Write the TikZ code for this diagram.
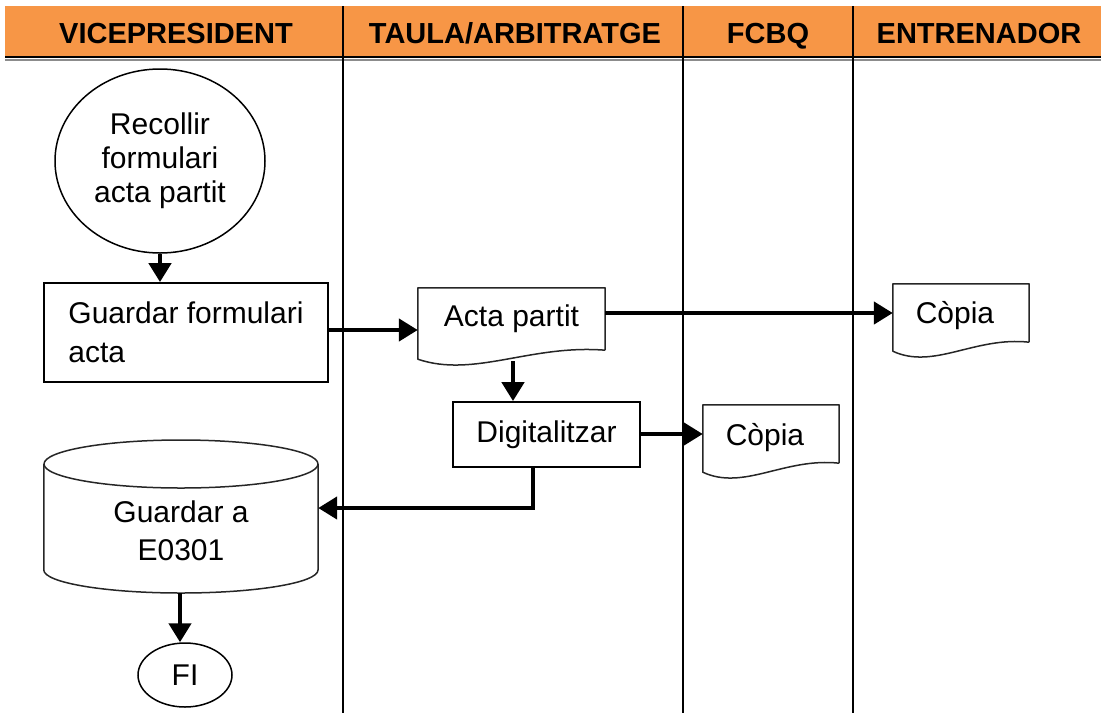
\documentclass[tikz,border=0pt]{standalone}
\usepackage{fontspec}
\setmainfont{Liberation Sans}
\usetikzlibrary{shapes.geometric,arrows.meta,calc}

\definecolor{headorange}{HTML}{F79646}

\tikzset{
  lane/.style={draw=black, line width=1.5pt},
  headtxt/.style={font=\fontsize{29}{32}\selectfont\bfseries, inner sep=0pt, anchor=base},
  boxtxt/.style={font=\fontsize{30}{34}\selectfont},
  procbox/.style={draw=black, line width=1.8pt, boxtxt, inner sep=0pt},
  docbox/.style={draw=none, boxtxt, inner sep=0pt},
  docline/.style={draw=black!85, line width=1.5pt, line join=round},
  flow/.style={line width=4.5pt, -{Triangle[length=19pt,width=22pt]}},
}

% outline of a document symbol: straight top and sides, wavy bottom
\newcommand{\docoutline}[1]{%
  \draw[docline] ($(#1.south east)$) -- (#1.north east) -- (#1.north west)
    -- ($(#1.south west)+(0,9)$)
    .. controls ($(#1.south west)!0.3!(#1.south east)+(0,28)$)
            and ($(#1.south west)!0.6!(#1.south east)+(0,-6)$) .. (#1.south east);}

\begin{document}
\begin{tikzpicture}[x=1pt,y=-1pt]
\useasboundingbox (0,0) rectangle (1101,713);

% header band
\fill[headorange] (5,6) rectangle (1101,57);
\draw[line width=2pt, black] (5,57) -- (1101,57);
\draw[line width=2pt, black!45] (5,60) -- (1101,60);

% lane dividers
\draw[lane] (343,6) -- (343,713);
\draw[lane] (683,6) -- (683,713);
\draw[lane] (853,6) -- (853,713);

% lane titles
\node[headtxt] (h1) at (176,43) {VICEPRESIDENT};
\node[headtxt] (h2) at (515,43) {TAULA/ARBITRATGE};
\node[headtxt] (h3) at (768,43) {FCBQ};
\node[headtxt] (h4) at (979,43) {ENTRENADOR};

% start
\node[ellipse, draw=black, line width=1.5pt, minimum width=210, minimum height=184,
      inner sep=0pt, align=center, font=\fontsize{30}{34}\selectfont]
  (start) at (160,161) {Recollir\\formulari\\acta partit};

% store the form
\node[procbox, minimum width=284, minimum height=99, align=left,
      font=\fontsize{30}{39}\selectfont]
  (store) at (186,332.5) {Guardar formulari\\acta};

% match report and copies
\node[docbox, minimum width=187, minimum height=62] (acta) at (511.5,319) {Acta partit};
\docoutline{acta}
\node[docbox, minimum width=136, minimum height=58] (copyA) at (961,313) {};
\docoutline{copyA}
\node[boxtxt, inner sep=0pt] (copyAtxt) at (955,316) {Còpia};
\node[docbox, minimum width=136, minimum height=58] (copyB) at (771,434) {};
\docoutline{copyB}
\node[boxtxt, inner sep=0pt] (copyBtxt) at (765,438) {Còpia};

% digitise
\node[procbox, minimum width=187, minimum height=65] (digit) at (546.5,434.5) {Digitalitzar};

% archive (cylinder)
\node[draw=none, minimum width=274, minimum height=153, inner sep=0pt] (arch) at (181,516.5) {};
\draw[docline] (181,464) ellipse [x radius=137, y radius=24];
\draw[docline] (arch.west |- 0,464) -- (arch.west |- 0,570)
  .. controls (44,582.7) and (105.4,593) .. (181,593)
  .. controls (256.6,593) and (318,582.7) .. (318,570)
  -- (arch.east |- 0,464);
\node[boxtxt, align=center, font=\fontsize{30}{38}\selectfont] (archtxt) at (181,531) {Guardar a\\E0301};

% end
\node[ellipse, draw=black, line width=1.5pt, minimum width=94, minimum height=64,
      inner sep=0pt, font=\fontsize{30}{34}\selectfont] (fi) at (185,675) {FI};

% flow
\draw[flow] (start.south) -- (start.south |- store.north);
\draw[flow] (store.east |- 0,330) -- (acta.west |- 0,330);
\draw[flow] (acta.east |- copyA.west) -- (copyA.west);
\draw[flow] ($(acta.south)+(1.5,11)$) -- (513,0 |- digit.north);
\draw[flow] (digit.east |- copyB.west) -- (copyB.west);
\coordinate (bend) at (533,508);
\draw[flow] (533,0 |- digit.south) -- (bend) -- (bend -| arch.east);
\draw[flow] (180,593) -- (180,0 |- fi.north);
\end{tikzpicture}
\end{document}
